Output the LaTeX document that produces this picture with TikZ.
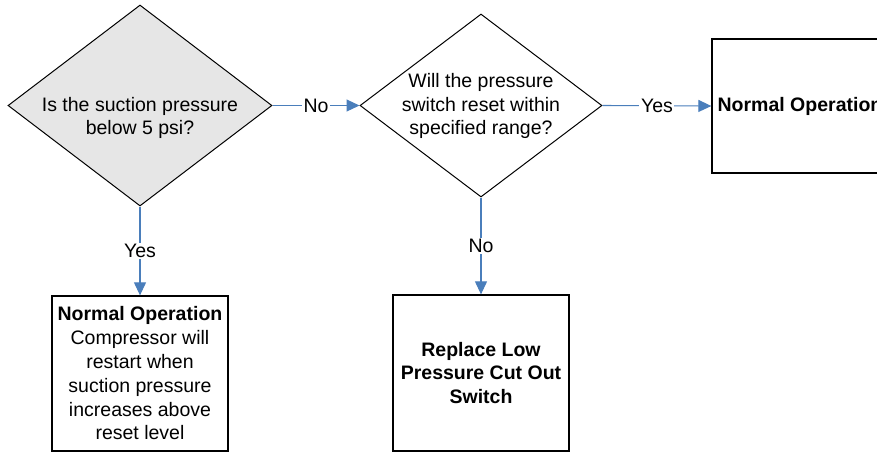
\documentclass[tikz,border=0pt]{standalone}
\usepackage{fontspec}
\setmainfont{Liberation Sans}
\usetikzlibrary{arrows.meta, shapes.geometric}
\definecolor{edgeblue}{HTML}{4A7EBB}
\definecolor{questgray}{HTML}{E6E6E6}

\begin{document}
\begin{tikzpicture}[x=0.5pt, y=-0.5pt,
      every node/.style={font=\fontsize{9.75}{11.9}\selectfont},
      decision/.style={diamond, draw, line width=0.5pt, inner sep=0pt},
      box/.style={draw, line width=0.65pt, minimum width=88pt,
                  align=center, inner sep=0pt},
      arrow/.style={-{Triangle[length=6.5pt, width=6pt]}, edgeblue, line width=0.55pt},
      lab/.style={fill=white, text=black, inner sep=0.8pt}
    ]
    \useasboundingbox (0,0) rectangle (877,452);
    \node[decision, fill=questgray, minimum width=132pt, minimum height=100.5pt] (q1) at (140,105.5) {};
    \node[align=center] (q1text) at (140,118) {Is the suction pressure\\below 5 psi?};
    \node[decision, minimum width=121pt, minimum height=91.5pt] (q2) at (481,105.5) {};
    \node[align=center] (q2text) at (481,106) {Will the pressure\\switch reset within\\specified range?};
    \node[box, minimum height=67pt] (ok2) at (800,106) {\bfseries Normal Operation};
    \node[box, minimum height=77.5pt] (ok1) at (140,373.5)
          {\textbf{Normal Operation}\\Compressor will\\restart when\\suction pressure\\increases above\\reset level};
    \node[box, minimum height=78pt] (fix) at (481,373)
          {\bfseries Replace Low\\\bfseries Pressure Cut Out\\\bfseries Switch};
    \draw[arrow] (q1.east) -- node[lab]{No} (q2.west);
    \draw[arrow] (q2.east) -- node[lab]{Yes} (ok2.west);
    \draw[arrow] (q1.south) -- node[lab]{Yes} (ok1.north);
    \draw[arrow] (q2.south) -- node[lab]{No} (fix.north);
  \end{tikzpicture}
\end{document}
